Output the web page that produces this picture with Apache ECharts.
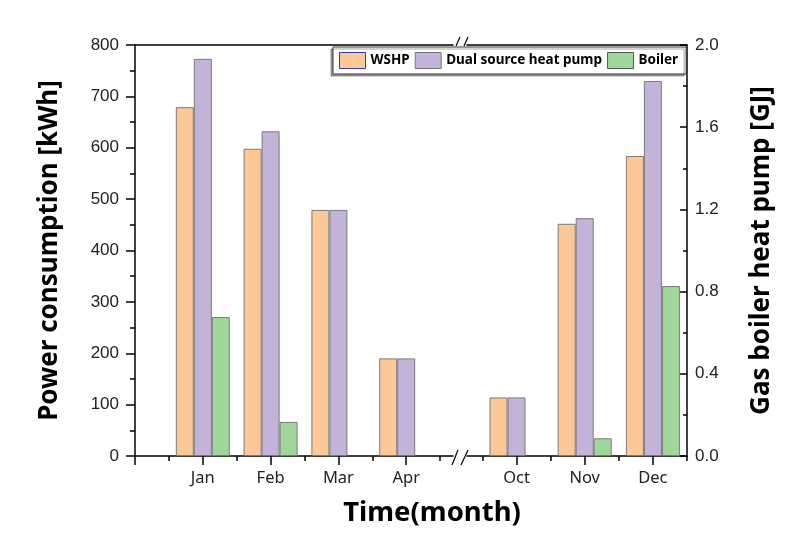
<!DOCTYPE html>
<html>
<head>
<meta charset="utf-8">
<script src="https://cdn.jsdelivr.net/npm/echarts@6/dist/echarts.min.js"></script>
<style>
html,body{margin:0;padding:0;background:#fff;}
#chart{width:807px;height:555px;}
</style>
</head>
<body>
<div id="chart"></div>
<script>
// ---- data ----
var months = ['Jan', 'Feb', 'Mar', 'Apr', 'Oct', 'Nov', 'Dec'];
var monthPos = [1, 2, 3, 4, 10, 11, 12];
var wshp = [679, 598, 479, 190, 114, 452, 584];            // kWh
var dual = [773, 632, 479, 190, 114, 463, 730];            // kWh
var boiler = [0.676, 0.166, null, null, null, 0.086, 0.827]; // GJ
var leftTicks = [0, 100, 200, 300, 400, 500, 600, 700, 800];
var rightTicks = [0.0, 0.4, 0.8, 1.2, 1.6, 2.0];

var colors = { wshp: '#FCC897', dual: '#C3B3D8', boiler: '#9FD79B' };

function pairs(vals, part) {
  var out = [];
  for (var i = 0; i < months.length; i++) {
    var inLeft = monthPos[i] < 6;
    if ((part === 0) === inLeft) out.push([monthPos[i], vals[i] == null ? '-' : vals[i]]);
  }
  return out;
}
function posOf(part) {
  return monthPos.filter(function (p) { return (part === 0) === (p < 6); });
}
function halves(part) {
  return posOf(part).map(function (p) { return p + 0.5; }).concat(part === 0 ? [0.5] : [9.5]);
}
function monthLabel(v) {
  var i = monthPos.indexOf(Math.round(v));
  return i >= 0 ? months[i] : '';
}

var chart = echarts.init(document.getElementById('chart'));
var lineBlack = { color: '#000', width: 1.5 };
var tickFont = { fontFamily: 'Liberation Sans', fontSize: 17, color: '#222' };
var monthFont = { fontFamily: 'Noto Sans', fontSize: 16.5, color: '#222' };
var ranges = [[0, 4.69], [9.274, 12.5]];

var xAxes = [];
[0, 1].forEach(function (g) {
  xAxes.push({
    type: 'value', gridIndex: g, position: 'bottom', min: ranges[g][0], max: ranges[g][1],
    splitLine: { show: false },
    axisLine: { show: true, lineStyle: lineBlack },
    axisTick: { show: true, length: 9, lineStyle: { color: '#000', width: 1.5 },
      customValues: g === 0 ? [0].concat(posOf(0)) : posOf(1) },
    axisLabel: Object.assign({ show: true, margin: 14, customValues: posOf(g), formatter: monthLabel }, monthFont)
  });
  xAxes.push({
    type: 'value', gridIndex: g, position: 'bottom', min: ranges[g][0], max: ranges[g][1],
    splitLine: { show: false },
    axisLine: { show: false },
    axisTick: { show: true, length: 5, lineStyle: { color: '#000', width: 1.5 }, customValues: halves(g) },
    axisLabel: { show: false }
  });
  xAxes.push({
    type: 'value', gridIndex: g, position: 'top', min: ranges[g][0], max: ranges[g][1],
    splitLine: { show: false },
    axisLine: { show: true, lineStyle: lineBlack },
    axisTick: { show: false }, axisLabel: { show: false }
  });
});

var nameFont = { fontFamily: 'Noto Sans', fontWeight: 'bold', fontSize: 26, color: '#000' };

var yAxes = [
  {
    type: 'value', gridIndex: 0, position: 'left', min: 0, max: 800, interval: 100,
    name: 'Power consumption [kWh]', nameLocation: 'middle', nameRotate: 90, nameGap: 72,
    nameTextStyle: nameFont,
    splitLine: { show: false },
    axisLine: { show: true, lineStyle: lineBlack },
    axisTick: { show: true, length: 9, lineStyle: { color: '#000', width: 1.5 } },
    minorTick: { show: true, splitNumber: 2, length: 5, lineStyle: { color: '#000', width: 1.5 } },
    axisLabel: Object.assign({ margin: 16 }, tickFont)
  },
  { type: 'value', gridIndex: 0, position: 'right', min: 0, max: 2, show: false },
  { type: 'value', gridIndex: 1, position: 'left', min: 0, max: 800, show: false },
  {
    type: 'value', gridIndex: 1, position: 'right', min: 0, max: 2, interval: 0.4,
    name: 'Gas boiler heat pump [GJ]', nameLocation: 'middle', nameRotate: 90, nameGap: 62,
    nameTextStyle: nameFont,
    splitLine: { show: false },
    axisLine: { show: true, lineStyle: lineBlack },
    axisTick: { show: true, inside: true, length: 7, lineStyle: { color: '#000', width: 1.5 } },
    minorTick: { show: true, splitNumber: 2, length: 4, lineStyle: { color: '#000', width: 1.5 } },
    axisLabel: Object.assign({ margin: 8, formatter: function (v) { return v.toFixed(1); } }, tickFont)
  }
];

function bar(name, vals, g, yIdx, color) {
  return {
    type: 'bar', name: name, xAxisIndex: g * 3, yAxisIndex: yIdx,
    data: pairs(vals, g), barWidth: 18, barGap: '0%',
    itemStyle: { color: color, borderColor: '#7a7a7a', borderWidth: 1 },
    emphasis: { disabled: true }
  };
}

var option = {
  animation: false,
  backgroundColor: '#fff',
  grid: [
    { left: 135, top: 45, width: 318, height: 411 },
    { left: 467, top: 45, width: 220, height: 411 }
  ],
  xAxis: xAxes,
  yAxis: yAxes,
  legend: {
    left: 333, top: 47, orient: 'horizontal',
    padding: [5, 8, 5, 6], itemGap: 5, itemWidth: 26, itemHeight: 16,
    backgroundColor: '#fff', borderColor: '#333', borderWidth: 1,
    shadowColor: 'rgba(0,0,0,0.35)', shadowBlur: 0, shadowOffsetX: -2, shadowOffsetY: 2,
    selectedMode: false,
    textStyle: { fontFamily: 'Noto Sans', fontWeight: 'bold', fontSize: 13.5, color: '#000' },
    data: [
      { name: 'WSHP', icon: 'rect', itemStyle: { color: colors.wshp, borderColor: '#3a3ab0', borderWidth: 1 } },
      { name: 'Dual source heat pump', icon: 'rect', itemStyle: { color: colors.dual, borderColor: '#777', borderWidth: 1 } },
      { name: 'Boiler', icon: 'rect', itemStyle: { color: colors.boiler, borderColor: '#555', borderWidth: 1 } }
    ]
  },
  graphic: [
    { type: 'text', x: 432, y: 513,
      style: { text: 'Time(month)', fontFamily: 'Noto Sans', fontWeight: 'bold', fontSize: 27.5,
        fill: '#000', textAlign: 'center', textVerticalAlign: 'middle' } },
    { type: 'line', shape: { x1: 452, y1: 465, x2: 458, y2: 450 }, style: { stroke: '#000', lineWidth: 1.2 } },
    { type: 'line', shape: { x1: 461, y1: 465, x2: 468, y2: 450 }, style: { stroke: '#000', lineWidth: 1.2 } },
    { type: 'line', shape: { x1: 456, y1: 46, x2: 460, y2: 37 }, style: { stroke: '#000', lineWidth: 1.2 } },
    { type: 'line', shape: { x1: 464, y1: 46, x2: 468, y2: 37 }, style: { stroke: '#000', lineWidth: 1.2 } }
  ],
  series: [
    bar('WSHP', wshp, 0, 0, colors.wshp),
    bar('Dual source heat pump', dual, 0, 0, colors.dual),
    bar('Boiler', boiler, 0, 1, colors.boiler),
    bar('WSHP', wshp, 1, 2, colors.wshp),
    bar('Dual source heat pump', dual, 1, 2, colors.dual),
    bar('Boiler', boiler, 1, 3, colors.boiler)
  ]
};
chart.setOption(option);
</script>
</body>
</html>
